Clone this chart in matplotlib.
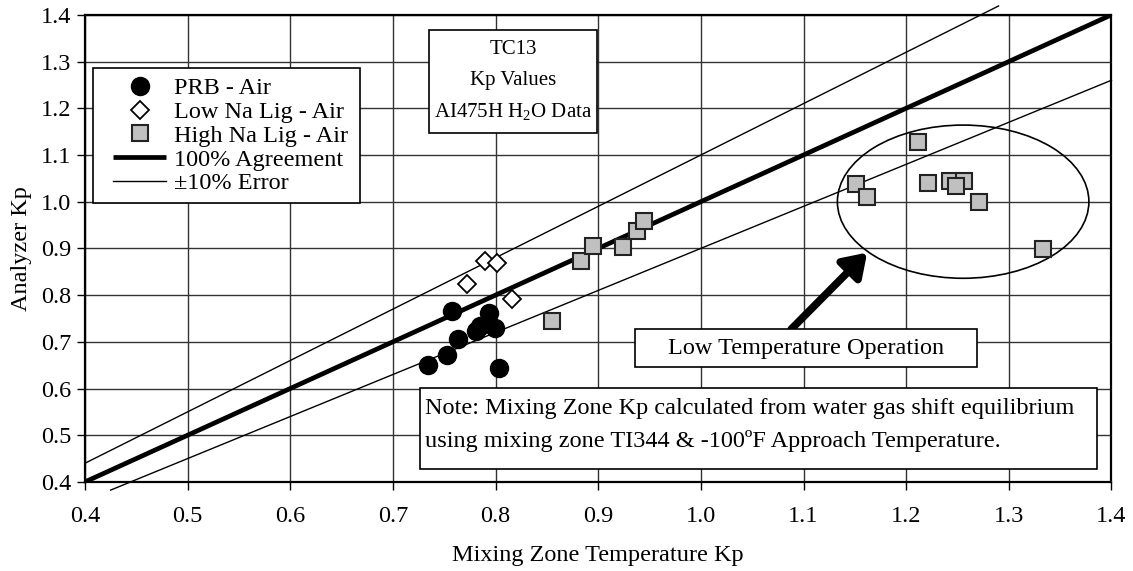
import matplotlib
matplotlib.use('Agg')
import matplotlib.pyplot as plt
from matplotlib.patches import Ellipse, Rectangle
import numpy as np

plt.rcParams['font.family'] = ['Liberation Serif', 'DejaVu Serif']
plt.rcParams['mathtext.default'] = 'regular'

# PRB - Air
prb_x = [0.734, 0.753, 0.758, 0.763, 0.781, 0.785, 0.794, 0.799, 0.803]
prb_y = [0.650, 0.671, 0.765, 0.707, 0.724, 0.733, 0.762, 0.729, 0.643]

# Low Na Lig - Air
low_x = [0.790, 0.801, 0.772, 0.816]
low_y = [0.874, 0.869, 0.823, 0.791]

# High Na Lig - Air
high_x = [0.855, 0.883, 0.895, 0.924, 0.938, 0.945,
          1.151, 1.162, 1.212, 1.221, 1.243, 1.256, 1.249, 1.271, 1.333]
high_y = [0.744, 0.874, 0.906, 0.903, 0.938, 0.959,
          1.037, 1.011, 1.128, 1.040, 1.044, 1.044, 1.033, 1.000, 0.898]

ticks = [0.4, 0.5, 0.6, 0.7, 0.8, 0.9, 1.0, 1.1, 1.2, 1.3, 1.4]

fig = plt.figure(figsize=(11.33, 5.71), dpi=100)
ax = fig.add_axes([0.075, 0.156, 0.906, 0.818])

ax.set_xlim(0.4, 1.4)
ax.set_ylim(0.4, 1.4)
ax.set_xticks(ticks)
ax.set_yticks(ticks)
ax.set_xticklabels([f"{t:.1f}" for t in ticks])
ax.set_yticklabels([f"{t:.1f}" for t in ticks])
ax.grid(True, color='#333333', lw=1.0)
ax.set_axisbelow(True)
ax.tick_params(direction='out', length=6, width=1, labelsize=17.5, colors='black')
ax.tick_params(axis='x', pad=11)
ax.tick_params(axis='y', pad=4)
for s in ax.spines.values():
    s.set_linewidth(1.6)

# agreement lines
xs = np.array([0.4, 1.4])
ax.plot(xs, xs, color='black', lw=3.4, solid_capstyle='butt', zorder=3,
        label='100% Agreement')
xu = np.array([0.4, 1.29])
ax.plot(xu, 1.1 * xu, color='black', lw=1.0, clip_on=False, zorder=3,
        label='\u00b110% Error')
xl = np.array([0.425, 1.4])
ax.plot(xl, 0.9 * xl, color='black', lw=1.0, clip_on=False, zorder=3)

# data series
ax.plot(prb_x, prb_y, 'o', ms=13, color='black', mec='black', zorder=5,
        label='PRB - Air')
ax.plot(low_x, low_y, 'D', ms=9, mfc='white', mec='black', mew=1.3, zorder=5,
        label='Low Na Lig - Air')
ax.plot(high_x, high_y, 's', ms=12, mfc='#c0c0c0', mec='#222222', mew=1.5, zorder=5,
        label='High Na Lig - Air')

# low temperature region
ax.add_patch(Ellipse((1.2555, 1.0), 0.245, 0.328, fill=False, ec='black', lw=1.2, zorder=4))
ax.annotate('', xy=(1.162, 0.891), xytext=(1.088, 0.727),
            arrowprops=dict(arrowstyle='-|>,head_length=0.45,head_width=0.3', lw=5.5,
                            color='black', mutation_scale=30, shrinkA=0, shrinkB=0),
            zorder=6)


def text_box(x0, y0, x1, y1):
    ax.add_patch(Rectangle((x0, y0), x1 - x0, y1 - y0, fc='white', ec='black',
                           lw=1.2, zorder=7))


text_box(0.9355, 0.646, 1.2686, 0.728)
ax.text(1.102, 0.686, 'Low Temperature Operation', ha='center', va='center',
        fontsize=17.5, zorder=8)

text_box(0.726, 0.428, 1.386, 0.602)
ax.text(0.731, 0.557, 'Note: Mixing Zone Kp calculated from water gas shift equilibrium',
        ha='left', va='center', fontsize=17.5, zorder=8)
ax.text(0.731, 0.488, 'using mixing zone TI344 & -100\u00baF Approach Temperature.',
        ha='left', va='center', fontsize=17.5, zorder=8)

text_box(0.735, 1.146, 0.8985, 1.368)
for ty, line in zip([1.325, 1.259, 1.192], ['TC13', 'Kp Values', 'AI475H H$_{2}$O Data']):
    ax.text(0.817, ty, line, ha='center', va='center', fontsize=15, zorder=8)

# legend: frame drawn separately so the padding can be set per side
ax.add_patch(Rectangle((0.0078, 0.597), 0.260, 0.289, transform=ax.transAxes,
                       fc='white', ec='black', lw=1.2, zorder=8))
handles, labels = ax.get_legend_handles_labels()
order = [2, 3, 4, 0, 1]
leg = ax.legend([handles[i] for i in order], [labels[i] for i in order],
                loc='upper left', bbox_to_anchor=(0.0273, 0.866), fontsize=17.5,
                frameon=False, borderpad=0, labelspacing=0.07, handlelength=2.2,
                handletextpad=0.3, borderaxespad=0)
leg.set_zorder(9)

ax.set_xlabel('Mixing Zone Temperature Kp', fontsize=17.5, labelpad=13)
ax.set_ylabel('Analyzer Kp', fontsize=17.5, labelpad=6)

fig.savefig('out.png', dpi=100)
